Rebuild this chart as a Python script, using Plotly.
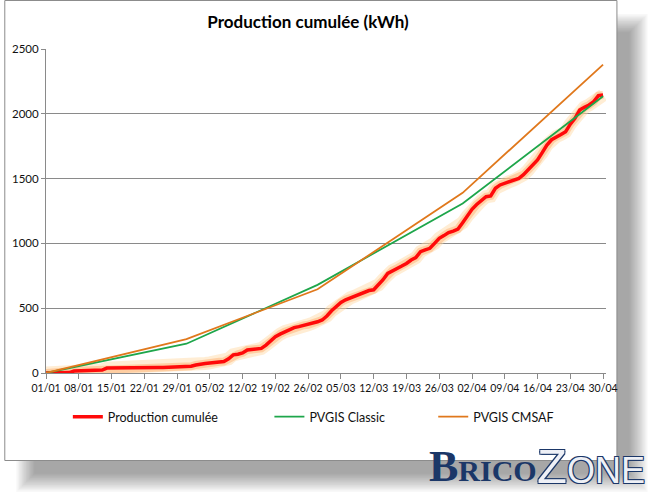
import pandas as pd
import plotly.graph_objects as go

# ---- data -------------------------------------------------------------
days = pd.date_range("2010-01-01", periods=120, freq="D")
production = [0, 0, 1, 2, 2, 3,
              15, 17, 18, 20, 21, 22, 23,
              38, 39, 40, 40, 41, 41, 41, 42, 42, 42, 43, 43, 43, 44, 44, 45, 45,
              48, 52, 62, 70, 74, 78, 82, 86,
              88, 110, 140,
              145, 155, 178, 182, 185,
              190, 215, 250,
              280, 300, 319, 335, 350, 358, 368, 372, 385, 395,
              409, 440, 480, 512,
              545, 565, 580, 594, 610, 627, 636, 642,
              679, 720, 769, 790, 808, 825, 845,
              872, 890, 936, 950, 962, 1000,
              1039, 1060, 1083, 1095, 1110, 1160,
              1210, 1263, 1300, 1330, 1360,
              1366, 1425, 1451, 1465, 1477, 1490, 1502,
              1530, 1566, 1600, 1644, 1700, 1759, 1800, 1824,
              1840, 1862, 1920, 1965, 2029, 2050, 2068, 2094, 2140, 2145]
pvgis_dates = ["2010-01-01", "2010-01-31", "2010-02-28", "2010-03-31", "2010-04-30"]
pvgis_classic = [0, 226, 680, 1308, 2135]
pvgis_cmsaf = [0, 262, 646, 1390, 2380]

title = "Production cumulée (kWh)"
names = ["Production cumulée", "PVGIS Classic", "PVGIS CMSAF"]
y_ticks = [0, 500, 1000, 1500, 2000, 2500]

# ---- layout geometry ----------------------------------------------------
W, H = 658, 502
L, R, T, B = 42, 606, 49, 373


def px(x):
    return (x - L) / (R - L)


def py(y):
    return (B - y) / (B - T)


FONT = "Lato"
fig = go.Figure()

# glow under the production line
for w, c in [(13, "rgba(255,215,160,0.45)"), (8, "rgba(255,180,120,0.55)")]:
    fig.add_trace(go.Scatter(x=days, y=production, mode="lines",
                             line=dict(color=c, width=w), showlegend=False,
                             hoverinfo="skip"))

fig.add_trace(go.Scatter(x=days, y=production, mode="lines", name=names[0],
                         line=dict(color="#ff0a0a", width=3.5), legend="legend"))
fig.add_trace(go.Scatter(x=pvgis_dates, y=pvgis_classic, mode="lines", name=names[1],
                         line=dict(color="#1ea64b", width=1.8), legend="legend2"))
fig.add_trace(go.Scatter(x=pvgis_dates, y=pvgis_cmsaf, mode="lines", name=names[2],
                         line=dict(color="#e0781c", width=1.8), legend="legend3"))

shapes = []
# soft shadow of the chart frame
for k in range(14):
    ins = k * 1.4
    shapes.append(dict(type="rect", xref="paper", yref="paper", layer="below",
                       x0=px(12 + ins), x1=px(648 - ins), y0=py(492 - ins), y1=py(14 + ins),
                       line=dict(width=0), fillcolor="rgba(0,0,0,0.026)"))
# frame
shapes.append(dict(type="rect", xref="paper", yref="paper", layer="below",
                   x0=px(0.5), x1=px(617), y0=py(460.5), y1=py(0.5),
                   line=dict(color="#8c8c8c", width=1), fillcolor="white"))

legend_common = dict(orientation="h", xanchor="left", yanchor="middle",
                     bgcolor="rgba(0,0,0,0)", font=dict(family=FONT, size=12.5, color="#111"),
                     itemwidth=30, tracegroupgap=0)

fig.update_layout(
    width=W, height=H,
    margin=dict(l=L, r=W - R, t=T, b=H - B),
    paper_bgcolor="white", plot_bgcolor="rgba(0,0,0,0)",
    title=dict(text=f"<b>{title}</b>", xref="container", yref="container",
               x=308 / W, y=1 - 22 / H, xanchor="center", yanchor="middle",
               font=dict(family=FONT, size=17, color="#000")),
    xaxis=dict(type="date", range=["2010-01-01", "2010-04-30 15:00"],
               tick0="2010-01-01", dtick=7 * 86400000, tickformat="%d/%m",
               showgrid=False, showline=True, linecolor="#8a8a8a", linewidth=1,
               ticks="outside", ticklen=5, tickcolor="#8a8a8a",
               tickfont=dict(family=FONT, size=10.5, color="#111"), zeroline=False,
               fixedrange=True),
    yaxis=dict(range=[0, 2500], tickvals=y_ticks,
               showgrid=True, gridcolor="#8a8a8a", gridwidth=1,
               showline=True, linecolor="#8a8a8a", linewidth=1,
               ticks="outside", ticklen=4, tickcolor="#8a8a8a",
               tickfont=dict(family=FONT, size=11.5, color="#111"), zeroline=False,
               fixedrange=True),
    legend=dict(x=px(64), y=py(417), **legend_common),
    legend2=dict(x=px(267), y=py(417), **legend_common),
    legend3=dict(x=px(432), y=py(417), **legend_common),
    shapes=shapes,
    showlegend=True,
)

# BricoZone watermark
fig.add_annotation(xref="paper", yref="paper", x=px(426), y=py(466),
                   xanchor="left", yanchor="middle", showarrow=False,
                   text="<b>B<span style='font-size:30px'>RICO</span></b>",
                   font=dict(family="Liberation Serif", size=44, color="#1b3768"))
fig.add_annotation(xref="paper", yref="paper", x=px(534), y=py(466),
                   xanchor="left", yanchor="middle", showarrow=False,
                   text="Z<span style='font-size:36px'>ONE</span>",
                   font=dict(family="Liberation Sans", size=49, color="#eef0f6",
                             shadow="1px 1px 0 #1b3768, -1px -1px 0 #1b3768, 1px -1px 0 #1b3768, -1px 1px 0 #1b3768"))

fig.write_html("out.html")
